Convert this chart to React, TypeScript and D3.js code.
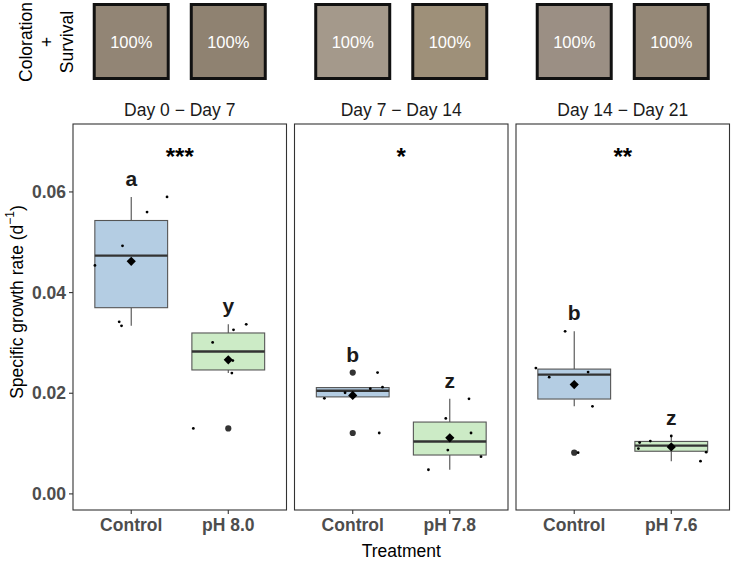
import React from "react";
import * as d3 from "d3";

// ---------- data ----------
const panelTitles = ["Day 0 − Day 7", "Day 7 − Day 14", "Day 14 − Day 21"];
const treatments = [
  ["Control", "pH 8.0"],
  ["Control", "pH 7.8"],
  ["Control", "pH 7.6"],
];
// growth rate values (d^-1) per group
const ctrlA = [0.0334, 0.0342, 0.0454, 0.0493, 0.056, 0.059];
const ph80 = [0.013, 0.024, 0.0265, 0.0301, 0.0326, 0.0337];
const ctrlB = [0.0121, 0.019, 0.0201, 0.0209, 0.0212, 0.0241];
const ph78 = [0.0048, 0.0074, 0.0087, 0.0121, 0.015, 0.0189];
const ctrlC = [0.0082, 0.0174, 0.0232, 0.0242, 0.025, 0.0323];
const ph76 = [0.0065, 0.0083, 0.009, 0.0102, 0.0105, 0.0115];
// horizontal jitter of the raw points (in category units)
const jitCtrlA = [-0.1, -0.124, -0.374, -0.09, 0.163, 0.369];
const jitPh80 = [-0.36, 0.037, 0.047, -0.161, 0.054, 0.185];
const jitCtrlB = [0.273, -0.292, -0.079, 0.181, 0.307, 0.256];
const jitPh78 = [-0.22, 0.322, -0.02, 0.219, -0.041, 0.198];
const jitCtrlC = [0.04, 0.188, -0.258, 0.143, -0.395, -0.094];
const jitPh76 = [0.301, 0.36, -0.339, -0.326, -0.216, 0.0];

const groupValues = [[ctrlA, ph80], [ctrlB, ph78], [ctrlC, ph76]];
const groupJitter = [[jitCtrlA, jitPh80], [jitCtrlB, jitPh78], [jitCtrlC, jitPh76]];
const groupLetters = [["a", "y"], ["b", "z"], ["b", "z"]];
const panelStars = ["***", "*", "**"];
const swatchColors = [
  ["#928575", "#8f8271"],
  ["#a4998b", "#9e9079"],
  ["#9b8f84", "#958877"],
];
const survival = [
  ["100%", "100%"],
  ["100%", "100%"],
  ["100%", "100%"],
];
const yTicks = [0, 0.02, 0.04, 0.06];
const boxFills = ["#b4cde3", "#ccebc6"];

// ---------- layout ----------
const W = 733;
const H = 561;
const plotLeft = 73;
const plotRight = 729.5;
const plotTop = 124;
const plotBottom = 510;
const gap = 8;
const panelW = (plotRight - plotLeft - 2 * gap) / 3;
const FONT = "'Liberation Sans', Arial, Helvetica, sans-serif";

const y = d3.scaleLinear().domain([-0.0032, 0.0735]).range([plotBottom, plotTop]);

function boxStats(vals: number[]) {
  const s = [...vals].sort(d3.ascending);
  const q1 = d3.quantile(s, 0.25)!;
  const med = d3.quantile(s, 0.5)!;
  const q3 = d3.quantile(s, 0.75)!;
  const iqr = q3 - q1;
  const lo = q1 - 1.5 * iqr;
  const hi = q3 + 1.5 * iqr;
  const inside = s.filter((v) => v >= lo && v <= hi);
  return {
    q1,
    med,
    q3,
    wLo: d3.min(inside)!,
    wHi: d3.max(inside)!,
    outliers: s.filter((v) => v < lo || v > hi),
    mean: d3.mean(s)!,
    max: d3.max(s)!,
  };
}

export default function App() {
  return (
    <svg
      width={W}
      height={H}
      style={{ position: "absolute", left: 0, top: 0, background: "#fff" }}
      fontFamily={FONT}
    >
      {/* Coloration + Survival label */}
      <g fontSize={17.5} fill="#000" textAnchor="middle">
        <text transform="translate(26,42) rotate(-90)" dominantBaseline="central">Coloration</text>
        <text transform="translate(47,42) rotate(-90)" dominantBaseline="central">+</text>
        <text transform="translate(67,42) rotate(-90)" dominantBaseline="central">Survival</text>
      </g>

      {/* Y axis title */}
      <text
        transform="translate(17,302) rotate(-90)"
        textAnchor="middle"
        dominantBaseline="central"
        fontSize={17.5}
        fill="#000"
      >
        Specific growth rate (d
        <tspan baselineShift="super" fontSize={12}>−1</tspan>)
      </text>

      {/* Y axis ticks */}
      {yTicks.map((t) => (
        <g key={t}>
          <line x1={plotLeft - 4} x2={plotLeft} y1={y(t)} y2={y(t)} stroke="#333" strokeWidth={1.1} />
          <text
            x={plotLeft - 7}
            y={y(t)}
            textAnchor="end"
            dominantBaseline="central"
            fontSize={17.5}
            fontWeight="bold"
            fill="#4d4d4d"
          >
            {d3.format(".2f")(t)}
          </text>
        </g>
      ))}

      {panelTitles.map((title, p) => {
        const left = plotLeft + p * (panelW + gap);
        const x = d3.scaleLinear().domain([0.4, 2.6]).range([left, left + panelW]);
        const unit = x(1) - x(0);
        return (
          <g key={p}>
            {/* swatches */}
            {treatments[p].map((tr, i) => {
              const cx = x(i + 1);
              return (
                <g key={"sw" + i}>
                  <rect
                    x={cx - 37}
                    y={4.5}
                    width={74}
                    height={74}
                    fill={swatchColors[p][i]}
                    stroke="#111"
                    strokeWidth={3}
                  />
                  <text
                    x={cx}
                    y={42}
                    textAnchor="middle"
                    dominantBaseline="central"
                    fontSize={16.5}
                    fill="#fff"
                  >
                    {survival[p][i]}
                  </text>
                </g>
              );
            })}

            {/* strip title */}
            <text x={left + panelW / 2} y={116} textAnchor="middle" fontSize={17.5} fill="#1a1a1a">
              {title}
            </text>

            {/* panel background */}
            <rect x={left} y={plotTop} width={panelW} height={plotBottom - plotTop} fill="#fff" />

            {/* boxes */}
            {treatments[p].map((tr, i) => {
              const st = boxStats(groupValues[p][i]);
              const cx = x(i + 1);
              const hw = 0.375 * unit;
              return (
                <g key={"bx" + i}>
                  <line x1={cx} x2={cx} y1={y(st.q3)} y2={y(st.wHi)} stroke="#4d4d4d" strokeWidth={1.1} />
                  <line x1={cx} x2={cx} y1={y(st.q1)} y2={y(st.wLo)} stroke="#4d4d4d" strokeWidth={1.1} />
                  <rect
                    x={cx - hw}
                    y={y(st.q3)}
                    width={2 * hw}
                    height={y(st.q1) - y(st.q3)}
                    fill={boxFills[i]}
                    stroke="#555"
                    strokeWidth={1.1}
                  />
                  <line x1={cx - hw} x2={cx + hw} y1={y(st.med)} y2={y(st.med)} stroke="#333" strokeWidth={2.4} />
                  {st.outliers.map((o, k) => (
                    <circle key={k} cx={cx} cy={y(o)} r={3.1} fill="#333" />
                  ))}
                </g>
              );
            })}

            {/* jittered points */}
            {treatments[p].map((tr, i) =>
              groupValues[p][i].map((v, k) => (
                <circle
                  key={"pt" + i + "-" + k}
                  cx={x(i + 1 + groupJitter[p][i][k])}
                  cy={y(v)}
                  r={1.4}
                  fill="#000"
                />
              ))
            )}

            {/* mean diamonds */}
            {treatments[p].map((tr, i) => {
              const st = boxStats(groupValues[p][i]);
              const cx = x(i + 1);
              const cy = y(st.mean);
              const r = 4.6;
              return (
                <path
                  key={"mn" + i}
                  d={`M${cx},${cy - r}L${cx + r},${cy}L${cx},${cy + r}L${cx - r},${cy}Z`}
                  fill="#000"
                />
              );
            })}

            {/* letters */}
            {treatments[p].map((tr, i) => {
              const st = boxStats(groupValues[p][i]);
              return (
                <text
                  key={"lt" + i}
                  x={x(i + 1)}
                  y={y(st.max) - 11}
                  textAnchor="middle"
                  fontSize={21}
                  fontWeight="bold"
                  fill="#1a1a1a"
                >
                  {groupLetters[p][i]}
                </text>
              );
            })}

            {/* significance stars */}
            <text
              x={left + panelW / 2}
              y={165}
              textAnchor="middle"
              fontSize={24}
              fontWeight="bold"
              fill="#000"
            >
              {panelStars[p]}
            </text>

            {/* panel border */}
            <rect
              x={left}
              y={plotTop}
              width={panelW}
              height={plotBottom - plotTop}
              fill="none"
              stroke="#333"
              strokeWidth={1.1}
            />

            {/* x ticks */}
            {treatments[p].map((tr, i) => (
              <g key={"xt" + i}>
                <line x1={x(i + 1)} x2={x(i + 1)} y1={plotBottom} y2={plotBottom + 4} stroke="#333" strokeWidth={1.1} />
                <text
                  x={x(i + 1)}
                  y={531}
                  textAnchor="middle"
                  fontSize={17.5}
                  fontWeight="bold"
                  fill="#4d4d4d"
                >
                  {tr}
                </text>
              </g>
            ))}
          </g>
        );
      })}

      {/* X axis title */}
      <text x={(plotLeft + plotRight) / 2} y={557} textAnchor="middle" fontSize={17.5} fill="#000">
        Treatment
      </text>
    </svg>
  );
}
